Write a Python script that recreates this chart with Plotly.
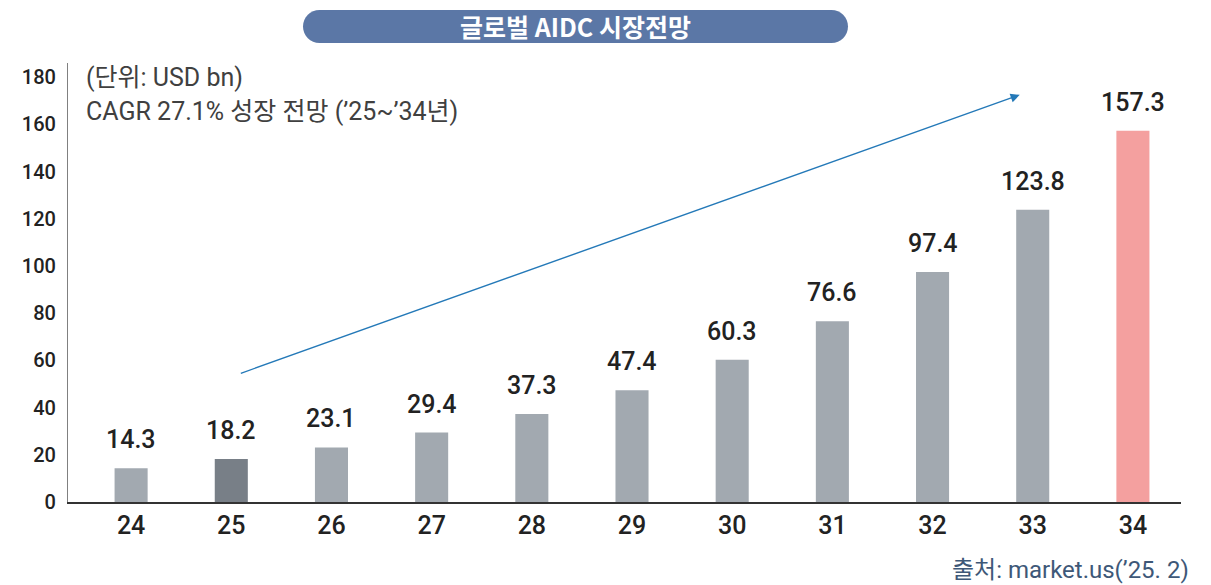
import plotly.graph_objects as go

years = ["24", "25", "26", "27", "28", "29", "30", "31", "32", "33", "34"]
values = [14.3, 18.2, 23.1, 29.4, 37.3, 47.4, 60.3, 76.6, 97.4, 123.8, 157.3]
value_labels = ["14.3", "18.2", "23.1", "29.4", "37.3", "47.4", "60.3", "76.6", "97.4", "123.8", "157.3"]
y_ticks = [0, 20, 40, 60, 80, 100, 120, 140, 160, 180]

GREY = "#a2a9b0"
DARK = "#787f87"
PINK = "#f4a09f"
colors = [GREY] * len(years)
colors[1] = DARK
colors[-1] = PINK

FONT = "Roboto, 'Noto Sans CJK KR', sans-serif"
KFONT = "'Noto Sans CJK KR', Roboto, sans-serif"

fig = go.Figure()
fig.add_trace(go.Bar(
    x=list(range(len(years))), y=values, marker=dict(color=colors, line=dict(width=0)),
    width=0.33, hoverinfo="skip", showlegend=False,
))

annotations = []
for i, (v, t) in enumerate(zip(values, value_labels)):
    annotations.append(dict(x=i, y=v, xref="x", yref="y", text=t, showarrow=False,
                            yanchor="bottom", yshift=12,
                            font=dict(family=FONT, size=25, color="#222222", weight=500)))

# trend arrow
annotations.append(dict(x=8.87, y=172.5, ax=1.08, ay=54.3, xref="x", yref="y", axref="x", ayref="y",
                        text="", showarrow=True, arrowhead=2, arrowsize=1.3, arrowwidth=1.4,
                        arrowcolor="#2479b8"))

# unit text
annotations.append(dict(x=(84 - 68) / 1113, y=(502 - 78) / 439, xref="paper", yref="paper", text="(단위: USD bn)",
                        showarrow=False, xanchor="left", yanchor="middle",
                        font=dict(family=FONT, size=25, color="#404040")))
annotations.append(dict(x=(84 - 68) / 1113, y=(502 - 111) / 439, xref="paper", yref="paper",
                        text="CAGR 27.1% 성장 전망 (’25~’34년)",
                        showarrow=False, xanchor="left", yanchor="middle",
                        font=dict(family=FONT, size=25, color="#404040")))
# title text
annotations.append(dict(x=(575.5 - 68) / 1113, y=(502 - 26.5) / 439, xref="paper", yref="paper",
                        text="<b>글로벌 AIDC 시장전망</b>", showarrow=False, xanchor="center", yanchor="middle",
                        font=dict(family=KFONT, size=25, color="white")))
# source
annotations.append(dict(x=(1191 - 68) / 1113, y=(502 - 570) / 439, xref="paper", yref="paper",
                        text="출처: market.us(’25. 2)", showarrow=False, xanchor="right", yanchor="middle",
                        font=dict(family=FONT, size=24, color="#3e5878")))

k = 0.5523 * 16.5
half = 256
r = 16.5
path = (f"M {-half},{-r} L {half},{-r} C {half + k},{-r} {half + r},{-k} {half + r},0 "
        f"C {half + r},{k} {half + k},{r} {half},{r} L {-half},{r} "
        f"C {-half - k},{r} {-half - r},{k} {-half - r},0 C {-half - r},{-k} {-half - k},{-r} {-half},{-r} Z")

fig.update_layout(
    width=1211, height=585,
    margin=dict(l=68, r=30, t=63, b=83),
    paper_bgcolor="white", plot_bgcolor="white",
    annotations=annotations,
    shapes=[dict(type="path", xref="paper", yref="paper", xsizemode="pixel", ysizemode="pixel",
                 xanchor=(575.5 - 68) / 1113, yanchor=(502 - 26.5) / 439, path=path,
                 fillcolor="#5b77a6", line=dict(width=0), layer="below")],
    xaxis=dict(range=[-0.63, 10.48], tickmode="array", tickvals=list(range(len(years))), ticktext=years,
               showgrid=False, zeroline=False, showline=True, linecolor="#333333", linewidth=1.5,
               ticks="", tickfont=dict(family=FONT, size=25, color="#222222", weight=500),
               ticklabelstandoff=0),
    yaxis=dict(range=[0, 186], tickmode="array", tickvals=y_ticks, showgrid=False, zeroline=False,
               showline=True, linecolor="#808080", linewidth=1.2, ticks="",
               tickfont=dict(family=FONT, size=20, color="#222222", weight=500), ticklabelstandoff=7),
)

fig.write_html("out.html", config={"displayModeBar": False},
               post_script="document.body.style.margin='0';")
